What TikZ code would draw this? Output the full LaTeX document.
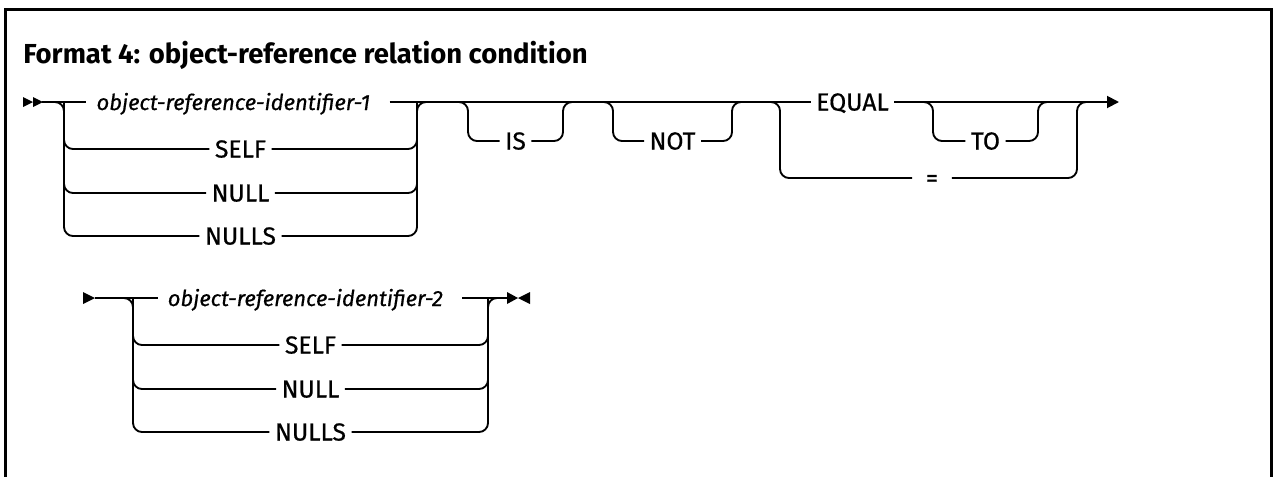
\documentclass[tikz,border=0pt]{standalone}
\usepackage{fontspec}
\setmainfont{Fira Sans}
\newfontfamily\kwfont{Fira Sans}[FakeBold=0.6]
\usetikzlibrary{arrows.meta}

\begin{document}
\begin{tikzpicture}[
  x=0.75pt, y=-0.75pt,
  rail/.style={line width=1.4pt, rounded corners=6.75pt},
  kw/.style={inner xsep=4pt, inner ysep=0pt, text height=12.8pt,
    text depth=0pt, font=\kwfont\fontsize{18.5}{22}\selectfont},
  var/.style={kw, inner xsep=7.5pt, text height=12pt,
    font=\kwfont\fontsize{16.5}{20}\selectfont\itshape},
  frame/.style={line width=2.25pt},
]
  \useasboundingbox (0,0) rectangle (1274,476);
  \draw[frame] (5,478) -- (5,9) -- (1271,9) -- (1271,478);

  \node[anchor=base west, inner sep=0pt, font=\fontsize{20.6}{24}\selectfont\bfseries]
    (title) at (23,63) {Format 4: object-reference relation condition};

  % first line
  \fill (23,97) -- (33,102) -- (23,107) -- cycle;
  \fill (33,97) -- (43,102) -- (33,107) -- cycle;
  \coordinate (s1) at (42,102);
  \coordinate (end1) at (1119,102);

  \node[var] (id1) at (238,102) {object-reference-identifier-1\hspace*{7pt}};
  \node[kw] (self1)  at (240.5,149) {SELF};
  \node[kw] (null1)  at (240.5,193) {NULL};
  \node[kw] (nulls1) at (240.5,236) {NULLS};
  \node[kw] (is)     at (515.5,141) {IS};
  \node[kw] (not)    at (672.5,141) {NOT};
  \node[kw] (equal)  at (852.5,102) {EQUAL};
  \node[kw] (to)     at (985.5,141) {TO};
  \node[kw, inner xsep=10pt] (eqs) at (932,178) {=};

  \coordinate (aL) at (64,102);   \coordinate (aR) at (417,102);
  \coordinate (isL) at (468,102); \coordinate (isR) at (563,102);
  \coordinate (notL) at (613,102); \coordinate (notR) at (732,102);
  \coordinate (eqL) at (780,102); \coordinate (eqR) at (1077,102);
  \coordinate (toL) at (933,102); \coordinate (toR) at (1038,102);

  \draw[rail] (s1) -- (id1) -- (equal);
  \draw[rail, -{Triangle[length=9pt,width=9pt]}] (equal) -- (end1);
  \draw[rail] ([xshift=-6.75pt]aL) -- (aL) -- (aL |- self1) -- (self1) -- (self1 -| aR) -- (aR) -- ([xshift=6.75pt]aR);
  \draw[rail] (aL) -- (aL |- null1) -- (null1) -- (null1 -| aR) -- (aR);
  \draw[rail] (aL) -- (aL |- nulls1) -- (nulls1) -- (nulls1 -| aR) -- (aR);
  \draw[rail] ([xshift=-6.75pt]isL) -- (isL) -- (isL |- is) -- (is) -- (is -| isR) -- (isR) -- ([xshift=6.75pt]isR);
  \draw[rail] ([xshift=-6.75pt]notL) -- (notL) -- (notL |- not) -- (not) -- (not -| notR) -- (notR) -- ([xshift=6.75pt]notR);
  \draw[rail] ([xshift=-6.75pt]eqL) -- (eqL) -- (eqL |- eqs) -- (eqs) -- (eqs -| eqR) -- (eqR) -- ([xshift=6.75pt]eqR);
  \draw[rail] ([xshift=-6.75pt]toL) -- (toL) -- (toL |- to) -- (to) -- (to -| toR) -- (toR) -- ([xshift=6.75pt]toR);

  % second line
  \fill (83,292) -- (95,298) -- (83,304) -- cycle;
  \coordinate (s2) at (95,298);
  \coordinate (end2) at (507,298);
  \fill (507,292) -- (518,298) -- (507,304) -- cycle;
  \fill (530,292) -- (518,298) -- (530,304) -- cycle;

  \node[var] (id2) at (310,298) {object-reference-identifier-2\hspace*{7pt}};
  \node[kw] (self2)  at (310.5,345) {SELF};
  \node[kw] (null2)  at (310.5,389) {NULL};
  \node[kw] (nulls2) at (310.5,432) {NULLS};

  \coordinate (bL) at (133,298); \coordinate (bR) at (488,298);

  \draw[rail] (s2) -- (id2) -- (end2);
  \draw[rail] ([xshift=-6.75pt]bL) -- (bL) -- (bL |- self2) -- (self2) -- (self2 -| bR) -- (bR) -- ([xshift=6.75pt]bR);
  \draw[rail] (bL) -- (bL |- null2) -- (null2) -- (null2 -| bR) -- (bR);
  \draw[rail] (bL) -- (bL |- nulls2) -- (nulls2) -- (nulls2 -| bR) -- (bR);
\end{tikzpicture}
\end{document}
